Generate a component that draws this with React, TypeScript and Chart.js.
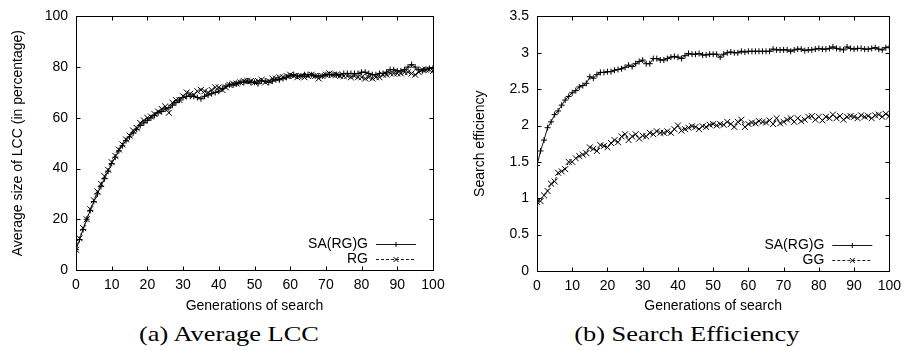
import React, { useEffect, useRef } from 'react';
import { Chart, registerables } from 'chart.js';

Chart.register(...registerables);

// x categories: generations of search 0..100
const generations: number[] = Array.from({ length: 101 }, (_, i) => i);

// (a) Average LCC
const lccSA: number[] = [
  8, 12, 16, 20, 23.5, 27, 30, 33, 36, 39,
  42, 44.5, 47, 49, 51, 52.5, 54, 55.5, 57, 58,
  59, 60, 61, 62, 62.5, 63.5, 64, 65, 66, 67,
  68, 68.5, 68.5, 68.5, 68, 67.5, 68.5, 69, 69.5, 70,
  70.5, 71.5, 72.5, 73, 73, 73.5, 74, 74, 74.5, 74,
  74, 73.5, 74.5, 74.5, 74, 74.5, 75, 75, 75.5, 76,
  76.5, 77, 76.5, 76.5, 77, 77, 77, 76.5, 76.5, 76.5,
  77, 77, 77, 77, 77, 77.5, 77.5, 77.5, 77.5, 77.5,
  78, 78, 77.5, 77, 77, 77.5, 77.5, 78, 79, 79,
  78.5, 78.5, 79, 80, 81, 80, 79, 78.5, 79, 79.5, 79.5,
];
const lccRG: number[] = [
  8, 12.5, 16.5, 20, 24, 27.5, 31, 34, 37, 39.5,
  42.5, 45, 47.5, 49.5, 51.5, 53, 55, 56, 58, 59,
  60, 60.5, 61.5, 62.5, 63.5, 64.5, 62, 66, 67, 67,
  68.5, 70, 69.5, 69, 70.5, 71, 70.5, 70, 71, 72,
  72, 71, 72, 73, 73.5, 73.5, 74, 74.5, 74.5, 74.5,
  74, 74.5, 75, 74, 74.5, 75.5, 75.5, 76, 76, 76.5,
  77, 76.5, 76, 76.5, 76, 76.5, 77, 76.5, 75.5, 76.5,
  77, 77.5, 77, 77, 76.5, 76.5, 76.5, 76, 76.5, 76,
  76, 75.5, 76, 75.5, 76, 76, 77, 77, 77.5, 77.5,
  77.5, 77.5, 78, 78, 77.5, 77, 78, 79, 79, 79, 78.5,
];

// (b) Search efficiency
const effSA: number[] = [
  1.45, 1.65, 1.8, 1.97, 2.05, 2.15, 2.2, 2.28, 2.35, 2.4,
  2.45, 2.48, 2.53, 2.55, 2.58, 2.67, 2.65, 2.7, 2.73, 2.73,
  2.74, 2.74, 2.76, 2.77, 2.78, 2.8, 2.83, 2.81, 2.85, 2.88,
  2.9, 2.85, 2.85, 2.92, 2.92, 2.9, 2.9, 2.92, 2.94, 2.95,
  2.94, 2.92, 2.96, 2.99, 2.98, 2.98, 2.99, 2.97, 2.97, 2.98,
  2.98, 2.98, 2.94, 2.98, 3.0, 3.01, 3.0, 3.0, 3.02, 3.01,
  3.02, 3.02, 3.02, 3.02, 3.02, 3.02, 3.02, 3.05, 3.04, 3.04,
  3.04, 3.04, 3.02, 3.04, 3.05, 3.05, 3.03, 3.04, 3.04, 3.05,
  3.06, 3.05, 3.05, 3.06, 3.08, 3.06, 3.05, 3.04, 3.08, 3.06,
  3.05, 3.06, 3.06, 3.05, 3.05, 3.06, 3.07, 3.05, 3.04, 3.07, 3.08,
];
const effGG: number[] = [
  0.95, 0.96, 1.04, 1.1, 1.2, 1.23, 1.35, 1.37, 1.4, 1.5,
  1.5, 1.55, 1.58, 1.6, 1.62, 1.7, 1.68, 1.65, 1.73, 1.72,
  1.7, 1.76, 1.8, 1.77, 1.85, 1.88, 1.8, 1.85, 1.88, 1.82,
  1.86, 1.85, 1.9, 1.88, 1.92, 1.9, 1.9, 1.92, 1.9, 1.95,
  2.0, 1.93, 1.95, 1.97, 1.99, 1.98, 1.95, 1.99, 1.98, 2.01,
  2.02, 2.0, 2.02, 2.01, 2.05, 2.02, 1.98, 2.05, 2.08, 1.98,
  2.02, 2.04, 2.03, 2.06, 2.05, 2.04, 2.07, 2.02, 2.1, 2.03,
  2.05, 2.08, 2.1, 2.05, 2.1, 2.06, 2.08, 2.12, 2.13, 2.08,
  2.12, 2.07, 2.12, 2.1, 2.15, 2.1, 2.13, 2.08, 2.12, 2.13,
  2.12, 2.1, 2.14, 2.12, 2.13, 2.1, 2.14, 2.15, 2.12, 2.16, 2.13,
];

const SANS = '"Liberation Sans", Arial, sans-serif';

function drawMarker(ctx: CanvasRenderingContext2D, style: string, x: number, y: number, r: number) {
  ctx.beginPath();
  if (style === 'cross') {
    ctx.moveTo(x - r, y); ctx.lineTo(x + r, y);
    ctx.moveTo(x, y - r); ctx.lineTo(x, y + r);
  } else {
    ctx.moveTo(x - r, y - r); ctx.lineTo(x + r, y + r);
    ctx.moveTo(x - r, y + r); ctx.lineTo(x + r, y - r);
  }
  ctx.stroke();
}

const gnuplotPlugin = {
  id: 'gnuplotFrame',
  afterDraw(chart: any) {
    const { ctx, chartArea } = chart;
    const { left, right, top, bottom } = chartArea;
    const xs = chart.scales.x;
    const ys = chart.scales.y;
    ctx.save();
    ctx.strokeStyle = '#000';
    ctx.lineWidth = 1;
    const L = Math.round(left) + 0.5, R = Math.round(right) + 0.5;
    const T = Math.round(top) + 0.5, B = Math.round(bottom) + 0.5;
    ctx.strokeRect(L, T, R - L, B - T);
    const tl = 4;
    ctx.beginPath();
    xs.ticks.forEach((t: any) => {
      const px = Math.round(xs.getPixelForValue(t.value)) + 0.5;
      ctx.moveTo(px, B); ctx.lineTo(px, B - tl);
      ctx.moveTo(px, T); ctx.lineTo(px, T + tl);
    });
    ys.ticks.forEach((t: any) => {
      const py = Math.round(ys.getPixelForValue(t.value)) + 0.5;
      ctx.moveTo(L, py); ctx.lineTo(L + tl, py);
      ctx.moveTo(R, py); ctx.lineTo(R - tl, py);
    });
    ctx.stroke();

    // legend, gnuplot style (bottom right, text then sample)
    ctx.font = `14px ${SANS}`;
    ctx.fillStyle = '#000';
    ctx.textAlign = 'right';
    ctx.textBaseline = 'middle';
    chart.data.datasets.forEach((ds: any, i: number) => {
      const yy = Math.round(bottom - 26 + i * 15) + 0.5;
      ctx.fillText(ds.label, right - 65, yy);
      ctx.strokeStyle = ds.borderColor;
      ctx.lineWidth = 1;
      ctx.setLineDash(ds.borderDash || []);
      ctx.beginPath();
      ctx.moveTo(right - 57, yy);
      ctx.lineTo(right - 17, yy);
      ctx.stroke();
      ctx.setLineDash([]);
      ctx.strokeStyle = '#000';
      drawMarker(ctx, ds.pointStyle, right - 37, yy, 2.5);
    });
    ctx.restore();
  },
};

type PanelProps = {
  yTitle: string;
  yMax: number;
  yStep: number;
  s1: number[];
  s2: number[];
  l1: string;
  l2: string;
  yAxisWidth: number;
  rightPad: number;
  topPad: number;
  xAxisHeight: number;
  yTitlePad: number;
};

function Panel(p: PanelProps) {
  const ref = useRef<HTMLCanvasElement | null>(null);
  useEffect(() => {
    if (!ref.current) return;
    const mk = (vals: number[]) => generations.map((g, i) => ({ x: g, y: vals[i] }));
    const chart = new Chart(ref.current, {
      type: 'line',
      data: {
        datasets: [
          {
            label: p.l1,
            data: mk(p.s1),
            borderColor: '#1a1a1a',
            borderWidth: 1,
            pointStyle: 'cross',
            pointRadius: 3,
            pointBorderColor: '#000',
            pointBorderWidth: 1,
            pointBackgroundColor: '#000',
            fill: false,
            tension: 0,
          },
          {
            label: p.l2,
            data: mk(p.s2),
            borderColor: '#1a1a1a',
            borderWidth: 1,
            borderDash: [3, 2],
            pointStyle: 'crossRot',
            pointRadius: 4.2,
            pointBorderColor: '#000',
            pointBorderWidth: 1,
            pointBackgroundColor: '#000',
            fill: false,
            tension: 0,
          },
        ],
      },
      options: {
        responsive: false,
        animation: false,
        events: [],
        layout: { padding: { left: 0, right: p.rightPad, top: p.topPad, bottom: 0 } },
        plugins: { legend: { display: false }, tooltip: { enabled: false } },
        scales: {
          x: {
            type: 'linear',
            min: 0,
            max: 100,
            grid: { display: false, drawTicks: false },
            border: { display: false },
            ticks: { stepSize: 10, color: '#000', font: { family: SANS, size: 14 }, padding: 7, maxRotation: 0, autoSkip: false },
            title: { display: true, text: 'Generations of search', color: '#000', font: { family: SANS, size: 14 }, padding: { top: 0, bottom: 5.6 } },
            afterFit: (s: any) => { s.height = p.xAxisHeight; },
          },
          y: {
            type: 'linear',
            min: 0,
            max: p.yMax,
            grid: { display: false, drawTicks: false },
            border: { display: false },
            ticks: {
              stepSize: p.yStep,
              color: '#000',
              font: { family: SANS, size: 14 },
              padding: 8,
              autoSkip: false,
              callback: (v: any) => String(Number(v)),
            },
            title: { display: true, text: p.yTitle, color: '#000', font: { family: SANS, size: 14 }, padding: { top: p.yTitlePad, bottom: 0 } },
            afterFit: (s: any) => { s.width = p.yAxisWidth; },
          },
        },
      },
      plugins: [gnuplotPlugin],
    } as any);
    return () => chart.destroy();
  }, []);
  return <canvas ref={ref} width={454} height={320} style={{ display: 'block' }} />;
}

const captionStyle: React.CSSProperties = {
  position: 'absolute',
  top: 320,
  width: 0,
  height: 28,
  display: 'flex',
  justifyContent: 'center',
  alignItems: 'center',
  fontFamily: '"Liberation Serif", "Times New Roman", serif',
  fontSize: 22,
  color: '#000',
  whiteSpace: 'nowrap',
};

export default function App() {
  return (
    <div style={{ position: 'fixed', left: 0, top: 0, width: 908, height: 351, background: '#fff', overflow: 'hidden' }}>
      <div style={{ position: 'absolute', left: 0, top: 0 }}>
        <Panel
          yTitle="Average size of LCC (in percentage)"
          yMax={100}
          yStep={20}
          s1={lccSA}
          s2={lccRG}
          l1="SA(RG)G"
          l2="RG"
          yAxisWidth={76}
          rightPad={21}
          topPad={13}
          xAxisHeight={50}
          yTitlePad={9.6}
        />
      </div>
      <div style={{ position: 'absolute', left: 454, top: 0 }}>
        <Panel
          yTitle="Search efficiency"
          yMax={3.5}
          yStep={0.5}
          s1={effSA}
          s2={effGG}
          l1="SA(RG)G"
          l2="GG"
          yAxisWidth={83}
          rightPad={15}
          topPad={14}
          xAxisHeight={49}
          yTitlePad={17.6}
        />
      </div>
      <div style={{ ...captionStyle, left: 229 }}>
        <span style={{ display: 'inline-block', transform: 'scaleX(1.2)' }}>(a) Average LCC</span>
      </div>
      <div style={{ ...captionStyle, left: 687 }}>
        <span style={{ display: 'inline-block', transform: 'scaleX(1.2)' }}>(b) Search Efficiency</span>
      </div>
    </div>
  );
}
